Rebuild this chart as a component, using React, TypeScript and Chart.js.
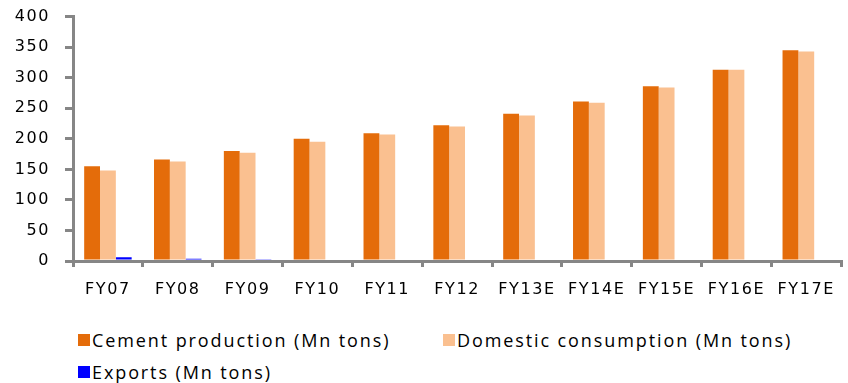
import React, { useEffect, useRef } from "react";
import { Chart, registerables } from "chart.js";

Chart.register(...registerables);

const categories = ["FY07", "FY08", "FY09", "FY10", "FY11", "FY12", "FY13E", "FY14E", "FY15E", "FY16E", "FY17E"];
const production = [155, 166, 180, 200, 209, 222, 241, 261, 286, 313, 345];
const domestic = [148, 163, 177, 195, 207, 220, 238, 259, 284, 313, 343];
const exportsMn = [6, 3.5, 3, 0, 0, 0, 0, 0, 0, 0, 0];
const yTicks = [0, 50, 100, 150, 200, 250, 300, 350, 400];

const seriesNames = ["Cement production (Mn tons)", "Domestic consumption (Mn tons)", "Exports (Mn tons)"];
const seriesColors = ["#E46C0A", "#FAC090", "#0000FF"];

const AXIS = "#868686";
const FONT = "'DejaVu Sans', Verdana, sans-serif";

export default function App() {
  const ref = useRef<HTMLCanvasElement | null>(null);

  useEffect(() => {
    document.body.style.margin = "0";
    const canvas = ref.current;
    if (!canvas) return;
    const spacing = {
      id: "spacing",
      beforeUpdate(chart: any) {
        (chart.ctx as any).letterSpacing = "1.6px";
      },
      beforeDraw(chart: any) {
        (chart.ctx as any).letterSpacing = "1.6px";
      },
    };
    const chart = new Chart(canvas, {
      type: "bar",
      data: {
        labels: categories,
        datasets: [
          { label: seriesNames[0], data: production, backgroundColor: seriesColors[0] },
          { label: seriesNames[1], data: domestic, backgroundColor: seriesColors[1] },
          { label: seriesNames[2], data: exportsMn, backgroundColor: seriesColors[2] },
        ],
      },
      options: {
        responsive: false,
        animation: false,
        devicePixelRatio: 1,
        layout: { padding: { top: 5.5, left: 0, right: 0, bottom: 0 } },
        datasets: { bar: { categoryPercentage: 0.68, barPercentage: 1 } },
        plugins: { legend: { display: false }, tooltip: { enabled: false } },
        scales: {
          x: {
            grid: { display: true, drawOnChartArea: false, color: AXIS, lineWidth: 3, tickLength: 6, offset: true },
            border: { display: true, color: AXIS, width: 3 },
            ticks: { color: "#000", font: { family: FONT, size: 16 }, padding: 13, maxRotation: 0, autoSkip: false },
            afterFit(scale: any) {
              scale.height = 49;
            },
          },
          y: {
            min: 0,
            max: 400,
            afterBuildTicks(scale: any) {
              scale.ticks = yTicks.map((v) => ({ value: v }));
            },
            grid: { display: true, drawOnChartArea: false, color: AXIS, lineWidth: 3, tickLength: 8 },
            border: { display: true, color: AXIS, width: 3 },
            ticks: { color: "#000", font: { family: FONT, size: 16 }, padding: 15 },
            afterFit(scale: any) {
              scale.width = 73;
            },
          },
        },
      },
      plugins: [spacing],
    });
    return () => chart.destroy();
  }, []);

  const legendFont = "'Open Sans', Roboto, sans-serif";
  const item = (i: number, left: number, top: number) => (
    <div
      key={i}
      style={{
        position: "absolute",
        left,
        top,
        display: "flex",
        alignItems: "center",
        fontFamily: legendFont,
        fontSize: 18,
        letterSpacing: "1.9px",
        color: "#000",
        whiteSpace: "nowrap",
        lineHeight: "22px",
      }}
    >
      <span style={{ display: "inline-block", width: 12, height: 12, background: seriesColors[i], marginRight: 2 }} />
      <span>{seriesNames[i]}</span>
    </div>
  );

  return (
    <div style={{ position: "relative", width: 848, height: 383, background: "#fff", overflow: "hidden" }}>
      <canvas
        ref={ref}
        width={848}
        height={318}
        style={{ display: "block", position: "absolute", left: 0, top: -8, width: 848, height: 318 }}
      />
      {item(0, 78, 329)}
      {item(1, 443, 329)}
      {item(2, 78, 361)}
    </div>
  );
}
